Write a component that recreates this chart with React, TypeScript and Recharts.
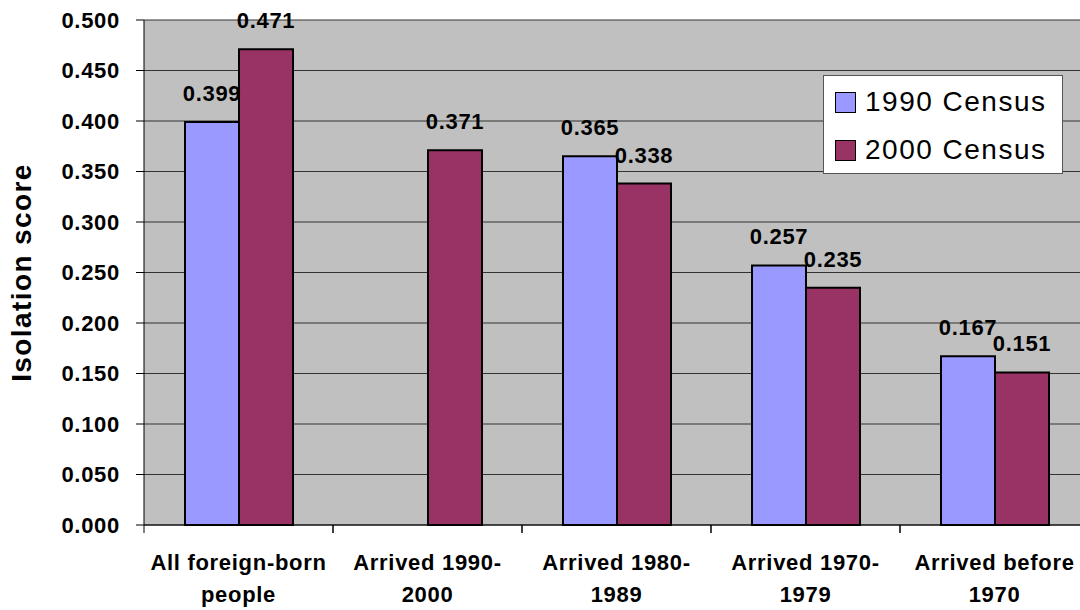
import React from 'react';
import { BarChart, Bar, XAxis, YAxis, CartesianGrid, LabelList } from 'recharts';

const categories = [
  ['All foreign-born', 'people'],
  ['Arrived 1990-', '2000'],
  ['Arrived 1980-', '1989'],
  ['Arrived 1970-', '1979'],
  ['Arrived before', '1970'],
];
const census1990 = [0.399, null, 0.365, 0.257, 0.167];
const census2000 = [0.471, 0.371, 0.338, 0.235, 0.151];
const yTicks = [0, 0.05, 0.1, 0.15, 0.2, 0.25, 0.3, 0.35, 0.4, 0.45, 0.5];

const data = categories.map((c, i) => ({
  name: c.join(' '),
  lines: c,
  c1990: census1990[i],
  c2000: census2000[i],
}));

const FONT = '"Liberation Sans", Arial, sans-serif';
const CHART_W = 1089;
const Y_W = 144;
const BAND = (CHART_W - Y_W) / categories.length;

const boldText = {
  fontFamily: FONT,
  fontWeight: 700,
  fontSize: 22,
  letterSpacing: 0.7,
  fill: '#000',
};

const CategoryTick = ({ x, y, payload, index }: any) => {
  const lines = data[index]?.lines || [payload.value];
  return (
    <g>
      <line x1={x - BAND / 2} x2={x - BAND / 2} y1={y} y2={y + 8} stroke="#000" />
      <line x1={x + BAND / 2} x2={x + BAND / 2} y1={y} y2={y + 8} stroke="#000" />
      <text x={x} y={y + 45} textAnchor="middle" style={boldText}>{lines[0]}</text>
      <text x={x} y={y + 77} textAnchor="middle" style={boldText}>{lines[1]}</text>
    </g>
  );
};

const ValueLabel = ({ x, y, width, value }: any) => {
  if (value == null) return null;
  return (
    <text x={x + width / 2} y={y - 21} textAnchor="middle" style={boldText}>
      {Number(value).toFixed(3)}
    </text>
  );
};

const LegendBox = () => (
  <div
    style={{
      position: 'absolute',
      left: 823,
      top: 75,
      width: 238,
      height: 97,
      background: '#fff',
      border: '1px solid #555',
      fontFamily: FONT,
      fontSize: 28,
      letterSpacing: 1.5,
      color: '#000',
    }}
  >
    {[
      ['1990 Census', '#9999FF'],
      ['2000 Census', '#993366'],
    ].map(([label, color], i) => (
      <div
        key={label}
        style={{ position: 'absolute', left: 11, top: 11 + i * 48, height: 30, display: 'flex', alignItems: 'center' }}
      >
        <span
          style={{
            display: 'inline-block',
            width: 19,
            height: 19,
            background: color,
            border: '1.5px solid #000',
            marginRight: 9,
          }}
        />
        <span>{label}</span>
      </div>
    ))}
  </div>
);

export default function App() {
  return (
    <div style={{ position: 'absolute', left: 0, top: 0, width: 1080, height: 610, overflow: 'hidden', background: '#fff' }}>
      <BarChart
        width={CHART_W}
        height={610}
        data={data}
        margin={{ top: 20, right: 0, bottom: 0, left: 0 }}
        barGap={0}
        barSize={54}
      >
        <CartesianGrid vertical={false} stroke="#333" fill="#C0C0C0" fillOpacity={1} />
        <XAxis
          dataKey="name"
          height={85}
          tickSize={0}
          tickMargin={0}
          interval={0}
          axisLine={{ stroke: '#000' }}
          tick={<CategoryTick />}
        />
        <YAxis
          width={Y_W}
          domain={[0, 0.5]}
          ticks={yTicks}
          tickFormatter={(v: number) => v.toFixed(3)}
          tickSize={8}
          tickMargin={16}
          interval={0}
          axisLine={{ stroke: '#000' }}
          tickLine={{ stroke: '#000' }}
          tick={boldText}
          label={{
            value: 'Isolation score',
            angle: -90,
            position: 'insideLeft',
            dx: 16,
            style: { ...boldText, fontSize: 28, letterSpacing: 1.4, textAnchor: 'middle' },
          }}
        />
        <Bar dataKey="c1990" name="1990 Census" fill="#9999FF" stroke="#000" strokeWidth={2} isAnimationActive={false}>
          <LabelList dataKey="c1990" content={<ValueLabel />} />
        </Bar>
        <Bar dataKey="c2000" name="2000 Census" fill="#993366" stroke="#000" strokeWidth={2} isAnimationActive={false}>
          <LabelList dataKey="c2000" content={<ValueLabel />} />
        </Bar>
      </BarChart>
      <LegendBox />
    </div>
  );
}
